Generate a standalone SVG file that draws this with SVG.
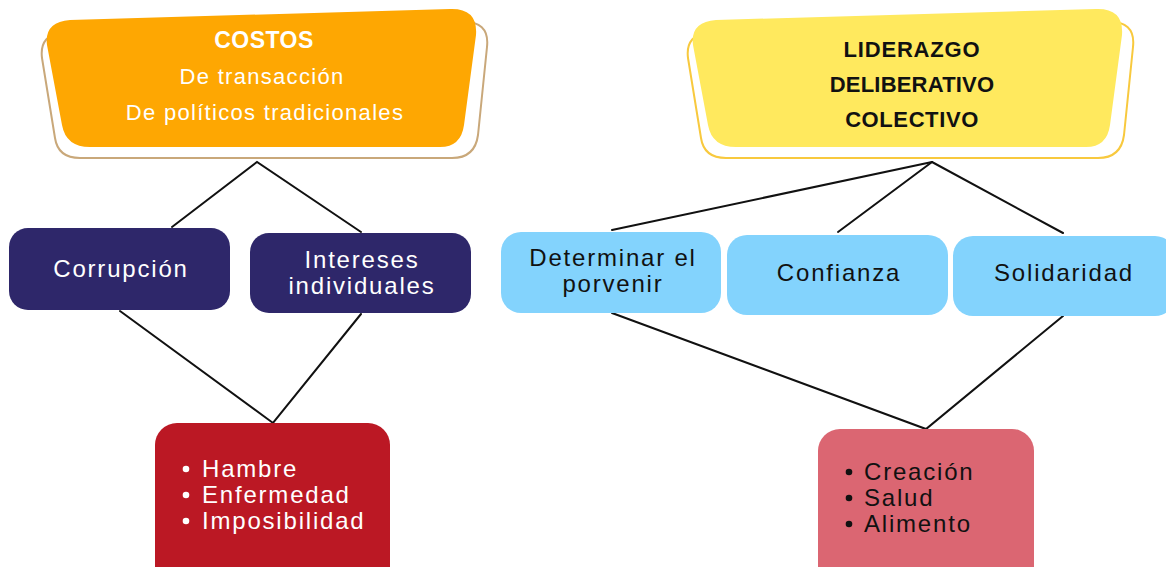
<svg xmlns="http://www.w3.org/2000/svg" width="1166" height="567" viewBox="0 0 1166 567">
<defs>
<style>
text{font-family:"Liberation Sans",Arial,sans-serif}
.hdr{font-size:22px;text-anchor:middle;letter-spacing:1.3px}
.hb{font-weight:bold}
.body{font-size:24px;letter-spacing:1.8px}
.mid{text-anchor:middle}
.w{fill:#ffffff}
.k{fill:#111111}
.conn{stroke:#111111;stroke-width:2;fill:none;stroke-linecap:round}
.navy{fill:#2E276A}
.blue{fill:#83D3FD}
</style>
<path id="outline" d="M 65 32 L 460 22 Q 490 20 487 47 L 478 135 Q 475 158 452 158 L 80 158 Q 58 158 55 138 L 42 58 Q 39 34 65 32 Z"/>
<path id="banner" d="M 70 20 L 450 9 Q 478 8 476 35 L 464 125 Q 461 147 440 147 L 90 147 Q 66 147 62 125 L 47 45 Q 44 22 70 20 Z"/>
</defs>
<rect width="1166" height="567" fill="#ffffff"/>

<g id="connectors">
<polyline class="conn" points="172,227 257,162 361,232"/>
<polyline class="conn" points="120,311 273,423 361,314"/>
<line class="conn" x1="932" y1="162" x2="612" y2="230"/>
<line class="conn" x1="932" y1="162" x2="838" y2="232"/>
<line class="conn" x1="932" y1="162" x2="1063" y2="233"/>
<polyline class="conn" points="612,313 926,429 1063,316"/>
</g>

<g id="costos">
<use href="#outline" fill="#ffffff" stroke="#C9A87A" stroke-width="2"/>
<use href="#banner" fill="#FEA702"/>
<text class="hdr hb w" x="264" y="48" style="font-size:23px;letter-spacing:0.5px">COSTOS</text>
<text class="hdr w" x="262" y="84">De transacción</text>
<text class="hdr w" x="265" y="120">De políticos tradicionales</text>
</g>

<g id="liderazgo">
<use href="#outline" transform="translate(646,0)" fill="#ffffff" stroke="#F8C93E" stroke-width="2"/>
<use href="#banner" transform="translate(646,0)" fill="#FFE95E"/>
<text class="hdr hb k" x="912" y="57" style="letter-spacing:0.8px">LIDERAZGO</text>
<text class="hdr hb k" x="912" y="92" style="letter-spacing:0.2px">DELIBERATIVO</text>
<text class="hdr hb k" x="912" y="127" style="letter-spacing:0.6px">COLECTIVO</text>
</g>

<g id="corrupcion">
<rect class="navy" x="9" y="228" width="221" height="82" rx="19"/>
<text class="body mid w" x="121" y="277">Corrupción</text>
</g>

<g id="intereses">
<rect class="navy" x="250" y="233" width="221" height="80" rx="19"/>
<text class="body mid w" x="362" y="268">Intereses</text>
<text class="body mid w" x="362" y="294">individuales</text>
</g>

<g id="determinar">
<rect class="blue" x="501" y="232" width="220" height="81" rx="20"/>
<text class="body mid k" x="613" y="266">Determinar el</text>
<text class="body mid k" x="613" y="292">porvenir</text>
</g>

<g id="confianza">
<rect class="blue" x="727" y="235" width="221" height="80" rx="20"/>
<text class="body mid k" x="839" y="281">Confianza</text>
</g>

<g id="solidaridad">
<rect class="blue" x="953" y="236" width="222" height="80" rx="20"/>
<text class="body mid k" x="1064" y="281">Solidaridad</text>
</g>

<g id="efectos-negativos">
<rect x="155" y="423" width="235" height="165" rx="22" fill="#BB1824"/>
<circle cx="186" cy="469" r="3.3" fill="#ffffff"/>
<circle cx="186" cy="495" r="3.3" fill="#ffffff"/>
<circle cx="186" cy="521" r="3.3" fill="#ffffff"/>
<text class="body w" x="202" y="477">Hambre</text>
<text class="body w" x="202" y="503">Enfermedad</text>
<text class="body w" x="202" y="529">Imposibilidad</text>
</g>

<g id="efectos-positivos">
<rect x="818" y="429" width="216" height="160" rx="22" fill="#DB6672"/>
<circle cx="849" cy="472" r="3.3" fill="#111111"/>
<circle cx="849" cy="498" r="3.3" fill="#111111"/>
<circle cx="849" cy="524" r="3.3" fill="#111111"/>
<text class="body k" x="864" y="480">Creación</text>
<text class="body k" x="864" y="506">Salud</text>
<text class="body k" x="864" y="532">Alimento</text>
</g>
</svg>
